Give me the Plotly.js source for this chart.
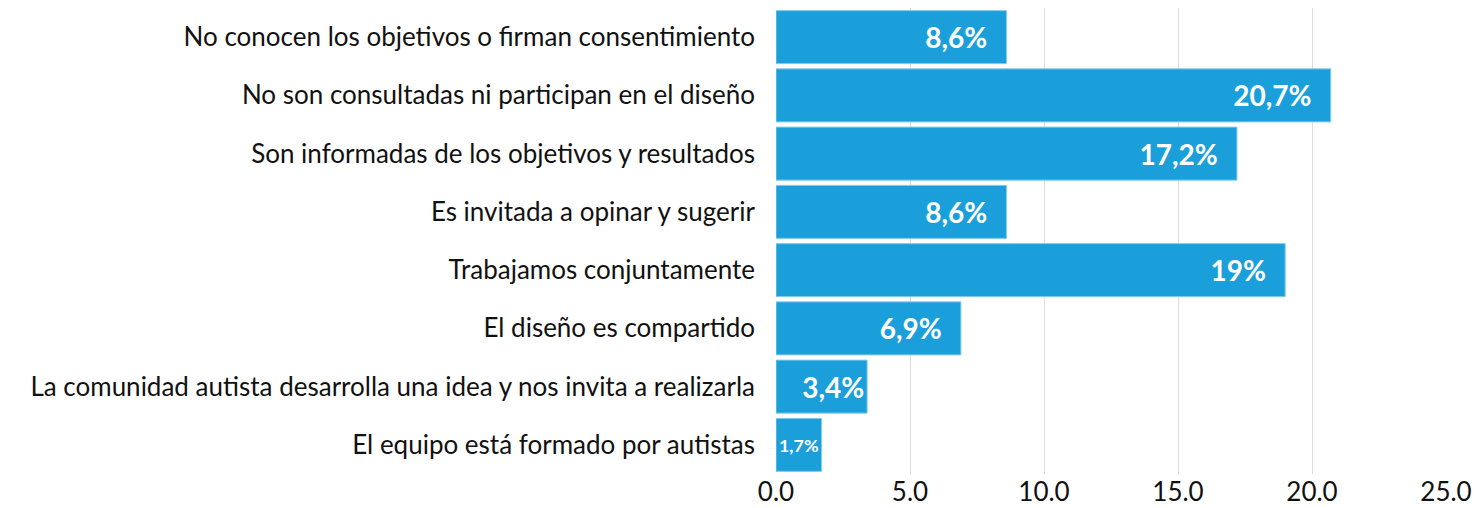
<!DOCTYPE html>
<html>
<head>
<meta charset="utf-8">
<script src="https://cdn.plot.ly/plotly-3.0.1.min.js"></script>
<style>html,body{margin:0;padding:0;background:#fff;}#chart{width:1478px;height:508px;}</style>
</head>
<body>
<div id="chart"></div>
<script>
const categories = [
  "No conocen los objetivos o firman consentimiento",
  "No son consultadas ni participan en el diseño",
  "Son informadas de los objetivos y resultados",
  "Es invitada a opinar y sugerir",
  "Trabajamos conjuntamente",
  "El diseño es compartido",
  "La comunidad autista desarrolla una idea y nos invita a realizarla",
  "El equipo está formado por autistas"
];
const values = [8.6, 20.7, 17.2, 8.6, 19, 6.9, 3.4, 1.7];
const valueLabels = ["8,6%", "20,7%", "17,2%", "8,6%", "19%", "6,9%", "3,4%", "1,7%"];
const tickVals = [0, 5, 10, 15, 20, 25];
const tickText = ["0.0", "5.0", "10.0", "15.0", "20.0", "25.0"];

const pad = '\u2007';
const barText = valueLabels.map((t, i) => values[i] > 5 ? t + pad : t);

const trace = {
  type: 'bar',
  orientation: 'h',
  x: values,
  y: categories,
  text: barText,
  textposition: 'inside',
  insidetextanchor: 'end',
  textangle: 0,
  constraintext: 'inside',
  textfont: {family: 'Lato, sans-serif', size: 28, color: '#ffffff', weight: 'bold'},
  marker: {color: '#1b9fda', line: {color: '#86ccee', width: 1}},
  hoverinfo: 'none',
  cliponaxis: false
};

const layout = {
  width: 1478,
  height: 508,
  margin: {l: 776, r: 32, t: 8, b: 34},
  paper_bgcolor: '#ffffff',
  plot_bgcolor: '#ffffff',
  bargap: 0.09,
  showlegend: false,
  font: {family: 'Lato, sans-serif', color: '#111111'},
  xaxis: {
    range: [0, 25],
    tickvals: tickVals,
    ticktext: tickText,
    showgrid: true,
    gridcolor: '#dddddd',
    gridwidth: 1,
    zeroline: false,
    showline: false,
    ticks: '',
    tickfont: {family: 'Lato, sans-serif', size: 26, color: '#111111'},
    fixedrange: true
  },
  yaxis: {
    autorange: 'reversed',
    showgrid: false,
    zeroline: false,
    showline: false,
    ticks: '',
    ticklabelstandoff: 20,
    tickfont: {family: 'Lato, sans-serif', size: 26, color: '#111111'},
    fixedrange: true
  }
};

Plotly.newPlot('chart', [trace], layout, {displayModeBar: false, staticPlot: true});
</script>
</body>
</html>
